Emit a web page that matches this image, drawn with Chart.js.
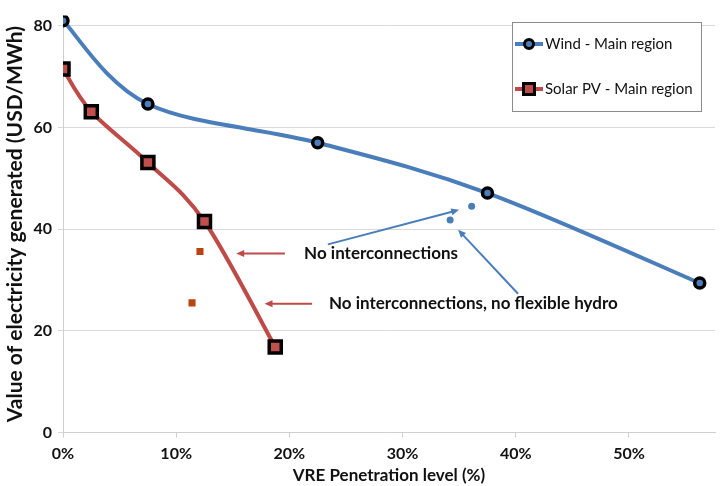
<!DOCTYPE html>
<html>
<head>
<meta charset="utf-8">
<script src="https://cdn.jsdelivr.net/npm/chart.js@4.4.1/dist/chart.umd.min.js"></script>
<style>
  html, body { margin: 0; padding: 0; background: #ffffff; }
  canvas { display: block; }
</style>
</head>
<body>
<canvas id="chart" width="727" height="486"></canvas>
<script>
// VRE penetration level (%) and value of electricity generated (USD/MWh)
const windPenetration = [0, 7.5, 22.5, 37.5, 56.25];
const windValue = [81.0, 64.6, 57.0, 47.1, 29.4];
const solarPenetration = [0, 2.5, 7.5, 12.5, 18.75];
const solarValue = [71.5, 63.1, 53.1, 41.5, 16.8];

// Sensitivity cases: [no interconnections, no interconnections + no flexible hydro]
const windCasePenetration = [36.1, 34.2];
const windCaseValue = [44.5, 41.8];
const solarCasePenetration = [12.1, 11.4];
const solarCaseValue = [35.6, 25.5];

const xTicks = [0, 10, 20, 30, 40, 50];
const yTicks = [0, 20, 40, 60, 80];

const seriesNames = ['Wind - Main region', 'Solar PV - Main region'];
const noteLabels = ['No interconnections', 'No interconnections, no flexible hydro'];

const BLUE = '#4A7EBB';
const RED = '#BE4B48';
const CASE_RED = '#B8450F';
const FONT = 'Lato, "Open Sans", sans-serif';

function pts(xs, ys) { return xs.map((x, i) => ({ x, y: ys[i] })); }

// Arrows and notes, placed in data units
const notes = [
  { text: noteLabels[0], x: 21.3, y: 35.2 },
  { text: noteLabels[1], x: 23.5, y: 25.3 }
];
const arrows = [
  { from: [19.6, 35.2], to: [15.3, 35.2], color: RED },
  { from: [22.0, 25.3], to: [17.8, 25.3], color: RED },
  { from: [23.4, 37.0], to: [35.0, 43.8], color: BLUE },
  { from: [40.2, 27.3], to: [34.9, 39.9], color: BLUE }
];

// Spreadsheet-style smoothing: Catmull-Rom tangents (1/6 of the neighbour span)
// applied to the pixel positions the line controller has already computed.
const smoothPlugin = {
  id: 'smoothLines',
  beforeDatasetsDraw(chart) {
    chart.data.datasets.forEach((ds, di) => {
      if (!ds.showLine) return;
      const meta = chart.getDatasetMeta(di);
      const p = meta.data;
      const n = p.length;
      for (let i = 0; i < n; i++) {
        const prev = p[Math.max(i - 1, 0)];
        const next = p[Math.min(i + 1, n - 1)];
        const dx = (next.x - prev.x) / 6;
        const dy = (next.y - prev.y) / 6;
        p[i].cp1x = p[i].x - dx;
        p[i].cp1y = p[i].y - dy;
        p[i].cp2x = p[i].x + dx;
        p[i].cp2y = p[i].y + dy;
      }
      meta.dataset._pointsUpdated = true;
      delete meta.dataset._path;
    });
  }
};

const annotationPlugin = {
  id: 'notes',
  afterDatasetsDraw(chart) {
    const { ctx, scales: { x, y } } = chart;
    ctx.save();
    arrows.forEach(a => {
      const x0 = x.getPixelForValue(a.from[0]), y0 = y.getPixelForValue(a.from[1]);
      const x1 = x.getPixelForValue(a.to[0]), y1 = y.getPixelForValue(a.to[1]);
      const ang = Math.atan2(y1 - y0, x1 - x0);
      const head = 8, half = 3.5;
      ctx.strokeStyle = a.color;
      ctx.fillStyle = a.color;
      ctx.lineWidth = 2;
      ctx.beginPath();
      ctx.moveTo(x0, y0);
      ctx.lineTo(x1 - Math.cos(ang) * head * 0.8, y1 - Math.sin(ang) * head * 0.8);
      ctx.stroke();
      ctx.beginPath();
      ctx.moveTo(x1, y1);
      ctx.lineTo(x1 - Math.cos(ang) * head - Math.sin(ang) * half, y1 - Math.sin(ang) * head + Math.cos(ang) * half);
      ctx.lineTo(x1 - Math.cos(ang) * head + Math.sin(ang) * half, y1 - Math.sin(ang) * head - Math.cos(ang) * half);
      ctx.closePath();
      ctx.fill();
    });
    ctx.fillStyle = '#111111';
    ctx.font = 'bold 17px ' + FONT;
    ctx.textBaseline = 'middle';
    ctx.textAlign = 'left';
    notes.forEach(n => {
      ctx.fillText(n.text, x.getPixelForValue(n.x), y.getPixelForValue(n.y));
    });
    ctx.restore();
  }
};

// Boxed legend in the upper right of the plot
const legendPlugin = {
  id: 'boxLegend',
  afterDraw(chart) {
    const { ctx } = chart;
    const box = { left: 512.5, top: 22.5, width: 189, height: 89 };
    ctx.save();
    ctx.fillStyle = '#ffffff';
    ctx.fillRect(box.left, box.top, box.width, box.height);
    ctx.strokeStyle = '#8c8c8c';
    ctx.lineWidth = 1;
    ctx.strokeRect(box.left, box.top, box.width, box.height);
    const rows = [
      { label: seriesNames[0], y: 44, color: BLUE, shape: 'circle' },
      { label: seriesNames[1], y: 89, color: RED, shape: 'rect' }
    ];
    rows.forEach(r => {
      ctx.strokeStyle = r.color;
      ctx.lineWidth = 4;
      ctx.beginPath();
      ctx.moveTo(515, r.y);
      ctx.lineTo(543, r.y);
      ctx.stroke();
      ctx.lineWidth = 3;
      ctx.strokeStyle = '#000000';
      ctx.fillStyle = r.color;
      if (r.shape === 'circle') {
        ctx.beginPath();
        ctx.arc(529, r.y, 4.5, 0, Math.PI * 2);
        ctx.fill();
        ctx.stroke();
      } else {
        ctx.fillRect(523.5, r.y - 5.5, 11, 11);
        ctx.strokeRect(523.5, r.y - 5.5, 11, 11);
      }
      ctx.fillStyle = '#111111';
      ctx.font = '15px ' + FONT;
      ctx.textBaseline = 'middle';
      ctx.textAlign = 'left';
      ctx.fillText(r.label, 545, r.y);
    });
    ctx.restore();
  }
};

new Chart(document.getElementById('chart'), {
  type: 'scatter',
  data: {
    datasets: [
      {
        label: seriesNames[0],
        data: pts(windPenetration, windValue),
        showLine: true,
        borderColor: BLUE,
        borderWidth: 4,
        tension: 0.4,
        pointStyle: 'circle',
        pointRadius: 5,
        pointBorderWidth: 3.5,
        pointBorderColor: '#000000',
        pointBackgroundColor: BLUE
      },
      {
        label: seriesNames[1],
        data: pts(solarPenetration, solarValue),
        showLine: true,
        borderColor: RED,
        borderWidth: 4,
        tension: 0.4,
        pointStyle: 'rect',
        pointRadius: 8.5,
        pointBorderWidth: 3.5,
        pointBorderColor: '#000000',
        pointBackgroundColor: '#C0504D'
      },
      {
        label: 'Wind cases',
        data: pts(windCasePenetration, windCaseValue),
        showLine: false,
        pointStyle: 'circle',
        pointRadius: 3.5,
        pointBorderWidth: 0,
        pointBackgroundColor: BLUE
      },
      {
        label: 'Solar PV cases',
        data: pts(solarCasePenetration, solarCaseValue),
        showLine: false,
        pointStyle: 'rect',
        pointRadius: 5,
        pointBorderWidth: 0,
        pointBackgroundColor: CASE_RED
      }
    ]
  },
  options: {
    responsive: false,
    animation: false,
    devicePixelRatio: 1,
    layout: { padding: { top: 5, right: 4, left: 0, bottom: 0 } },
    plugins: {
      legend: { display: false },
      tooltip: { enabled: false }
    },
    scales: {
      x: {
        type: 'linear',
        min: 0,
        max: 57.6,
        afterBuildTicks(scale) { scale.ticks = xTicks.map(v => ({ value: v })); },
        afterFit(scale) { scale.height = 53.5; },
        ticks: {
          callback: v => v + '%',
          color: '#111111',
          font: { family: FONT, size: 16, weight: 'bold' },
          padding: 7,
          maxRotation: 0
        },
        grid: { drawOnChartArea: false, drawTicks: true, tickLength: 5, color: '#cfcfcf' },
        border: { color: '#cfcfcf' },
        title: {
          display: true,
          text: 'VRE Penetration level (%)',
          color: '#111111',
          font: { family: FONT, size: 17, weight: 'bold' },
          padding: { top: 0, bottom: 0 }
        }
      },
      y: {
        type: 'linear',
        min: 0,
        max: 82,
        afterBuildTicks(scale) { scale.ticks = yTicks.map(v => ({ value: v })); },
        afterFit(scale) { scale.width = 63; },
        ticks: {
          color: '#111111',
          font: { family: FONT, size: 16, weight: 'bold' },
          padding: 6
        },
        grid: { color: '#d9d9d9', tickLength: 5, lineWidth: 1 },
        border: { color: '#cfcfcf' },
        title: {
          display: true,
          text: 'Value of electricity generated (USD/MWh)',
          color: '#111111',
          font: { family: FONT, size: 21, weight: 'bold' },
          padding: { top: 3, bottom: 0 }
        }
      }
    }
  },
  plugins: [smoothPlugin, annotationPlugin, legendPlugin]
});
</script>
</body>
</html>
